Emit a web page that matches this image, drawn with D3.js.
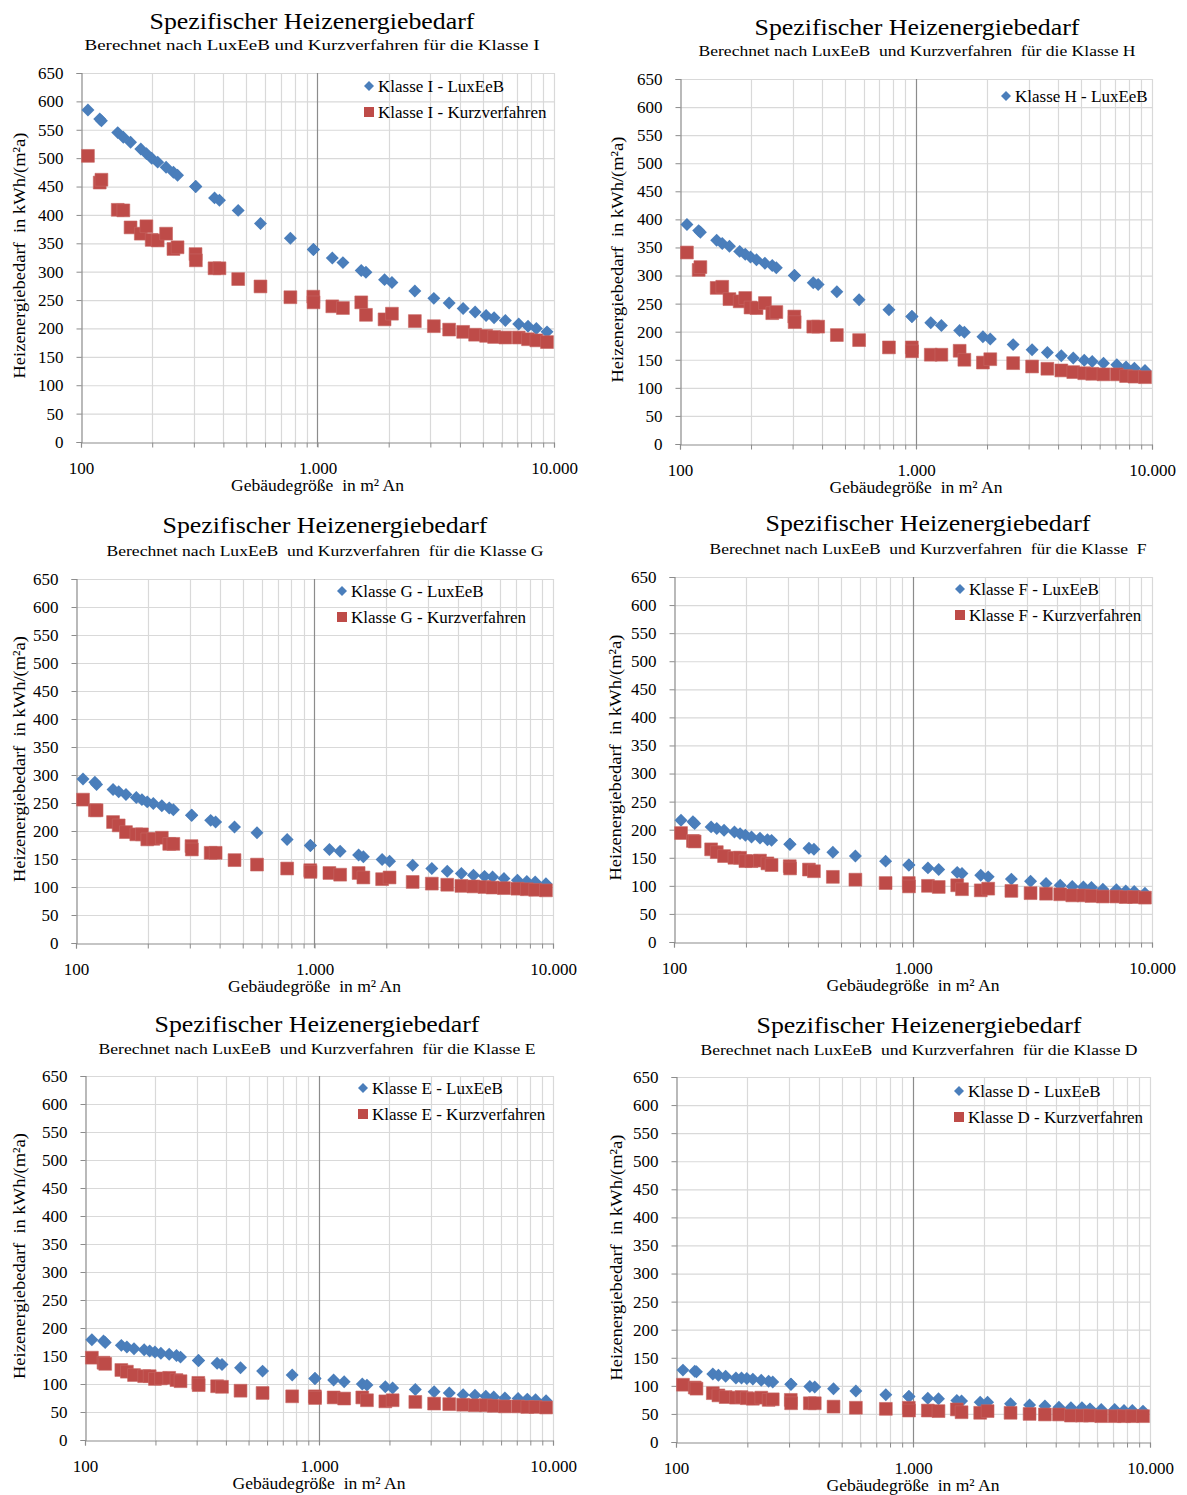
<!DOCTYPE html>
<html>
<head>
<meta charset="utf-8">
<script src="https://cdn.jsdelivr.net/npm/d3@7"></script>
<style>
  body { margin: 0; background: #fff; }
  text { font-family: "Liberation Serif", "DejaVu Serif", serif; fill: #000; }
</style>
</head>
<body>
<svg id="chart" width="1187" height="1495"></svg>
<script>
// building sizes (m² An), shared by all classes
const sizes = [107, 120, 122, 143, 151, 162, 179, 189, 199, 211, 229, 246, 256, 305, 306,
  367, 385, 462, 574, 768, 960, 962, 1155, 1281, 1531, 1603, 1921, 2064, 2580, 3104,
  3603, 4129, 4639, 5163, 5581, 6229, 7093, 7766, 8422, 9342]

const luxI = [585, 569, 566, 545, 537, 528, 516, 508, 500, 493, 484, 475, 470, 450, 450,
  430, 426, 408, 385, 359, 339, 339, 324, 316, 302, 299, 286, 281, 266, 253,
  245, 235, 229, 223, 219, 214, 208, 204, 200, 194]
const kurzI = [504, 457, 462, 409, 408, 378, 367, 380, 356, 355, 367, 340, 343, 331, 320,
  306, 306, 287, 274, 255, 256, 246, 239, 236, 246, 224, 216, 226, 213, 204,
  198, 194, 189, 187, 185, 184, 184, 181, 179, 176]

const luxH = [391, 380, 377, 363, 357, 352, 343, 338, 333, 328, 322, 318, 314, 300, 300,
  287, 284, 271, 257, 239, 227, 227, 216, 211, 202, 199, 191, 187, 177, 168,
  163, 157, 153, 149, 147, 144, 141, 137, 135, 131]
const kurzH = [341, 310, 315, 278, 280, 258, 254, 260, 243, 242, 251, 233, 235, 227, 217,
  209, 209, 194, 185, 172, 172, 165, 159, 159, 166, 150, 145, 151, 144, 138,
  134, 131, 128, 126, 125, 124, 124, 121, 120, 119]

const luxG = [293, 287, 283, 274, 270, 265, 260, 256, 252, 249, 245, 241, 238, 228, 228,
  219, 216, 207, 197, 185, 174, 174, 167, 164, 157, 154, 149, 146, 139, 133,
  128, 124, 121, 119, 118, 115, 112, 110, 109, 106]
const kurzG = [256, 237, 237, 216, 210, 198, 194, 194, 185, 186, 188, 177, 177, 173, 167,
  161, 161, 148, 140, 133, 130, 127, 125, 122, 125, 117, 114, 117, 109, 106,
  104, 102, 101, 100, 99, 98, 97, 96, 95, 94]

const luxF = [217, 214, 211, 205, 202, 199, 196, 193, 190, 187, 185, 182, 181, 174, 174,
  167, 165, 160, 153, 144, 137, 137, 132, 129, 124, 122, 119, 116, 112, 108,
  104, 101, 99, 98, 97, 94, 93, 91, 90, 87]
const kurzF = [194, 180, 179, 165, 160, 153, 150, 150, 144, 144, 145, 140, 137, 135, 131,
  129, 126, 116, 111, 105, 105, 99, 100, 98, 101, 94, 92, 95, 91, 87,
  86, 85, 83, 83, 82, 81, 81, 80, 80, 79]

const luxE = [179, 177, 174, 169, 166, 163, 161, 159, 157, 155, 153, 151, 148, 142, 142,
  137, 135, 129, 123, 116, 110, 110, 107, 104, 100, 98, 95, 93, 90, 86,
  84, 81, 80, 78, 77, 75, 74, 73, 72, 70]
const kurzE = [147, 138, 136, 125, 122, 116, 114, 114, 109, 110, 111, 107, 105, 102, 98,
  96, 95, 88, 84, 78, 78, 75, 76, 74, 76, 71, 69, 71, 68, 65,
  64, 63, 62, 62, 61, 60, 60, 59, 59, 58]

const luxD = [128, 126, 125, 121, 119, 117, 114, 114, 113, 112, 110, 108, 107, 103, 103,
  99, 98, 95, 91, 84, 81, 81, 78, 77, 74, 73, 71, 71, 68, 66,
  64, 62, 61, 61, 59, 58, 58, 56, 56, 55]
const kurzD = [102, 97, 95, 87, 83, 80, 79, 80, 78, 77, 79, 75, 76, 75, 69,
  69, 69, 63, 61, 59, 61, 56, 56, 55, 58, 53, 52, 55, 52, 50,
  49, 49, 47, 47, 47, 46, 46, 46, 46, 46]

const classes = ['I', 'H', 'G', 'F', 'E', 'D']
const subtitles = [
  'Berechnet nach LuxEeB und Kurzverfahren für die Klasse I',
  'Berechnet nach LuxEeB  und Kurzverfahren  für die Klasse H',
  'Berechnet nach LuxEeB  und Kurzverfahren  für die Klasse G',
  'Berechnet nach LuxEeB  und Kurzverfahren  für die Klasse  F',
  'Berechnet nach LuxEeB  und Kurzverfahren  für die Klasse E',
  'Berechnet nach LuxEeB  und Kurzverfahren  für die Klasse D'
]
const luxSeries = [luxI, luxH, luxG, luxF, luxE, luxD]
const kurzSeries = [kurzI, kurzH, kurzG, kurzF, kurzE, kurzD]
const showKurzLegend = [true, false, true, true, true, true]
const yTicks = d3.range(0, 651, 50)
const xTickLabels = {100: '100', 1000: '1.000', 10000: '10.000'}

// panel frames
const layout = [
  {left: 81, right: 554, top: 73, bottom: 442, tx: 312, ty: 29, sy: 50, lx: 369, ly: 86, yt: 19},
  {left: 680, right: 1152, top: 79, bottom: 444, tx: 917, ty: 35, sy: 56, lx: 1006, ly: 96, yt: 617},
  {left: 76, right: 553, top: 579, bottom: 943, tx: 325, ty: 533, sy: 556, lx: 342, ly: 591, yt: 19},
  {left: 674, right: 1152, top: 577, bottom: 942, tx: 928, ty: 531, sy: 554, lx: 960, ly: 589, yt: 615},
  {left: 85, right: 553, top: 1076, bottom: 1440, tx: 317, ty: 1032, sy: 1054, lx: 363, ly: 1088, yt: 19},
  {left: 676, right: 1150, top: 1077, bottom: 1442, tx: 919, ty: 1033, sy: 1055, lx: 959, ly: 1091, yt: 616}
]

const blue = '#4a7ebb', red = '#be4b48'
const diamond = d3.symbol(d3.symbolSquare, 84)()
const square = d3.symbol(d3.symbolSquare, 165)()

const svg = d3.select('#chart')
svg.append('rect').attr('width', 1187).attr('height', 1495).attr('fill', '#fff')

classes.forEach((k, i) => {
  const L = layout[i]
  const x = d3.scaleLog().domain([100, 10000]).range([L.left, L.right])
  const y = d3.scaleLinear().domain([0, 650]).range([L.bottom, L.top])
  const g = svg.append('g')

  // title
  g.append('text').attr('x', L.tx).attr('y', L.ty).attr('text-anchor', 'middle')
    .attr('font-size', 24).attr('textLength', 325).attr('lengthAdjust', 'spacingAndGlyphs')
    .text('Spezifischer Heizenergiebedarf')
  g.append('text').attr('x', L.tx).attr('y', L.sy).attr('text-anchor', 'middle')
    .attr('font-size', 15.5).attr('textLength', i == 0 ? 455 : 437).attr('lengthAdjust', 'spacingAndGlyphs')
    .style('white-space', 'pre')
    .text(subtitles[i])

  // grid
  const xt = x.ticks()
  g.append('g').selectAll('line').data(yTicks.slice(1)).join('line')
    .attr('x1', L.left).attr('x2', L.right)
    .attr('y1', d => y(d) + .5).attr('y2', d => y(d) + .5)
    .attr('stroke', '#d9d9d9').attr('stroke-width', 1.2)
  g.append('g').selectAll('line').data(xt.filter(d => d != 100 && d != 1000)).join('line')
    .attr('x1', d => Math.round(x(d)) + .5).attr('x2', d => Math.round(x(d)) + .5)
    .attr('y1', L.top).attr('y2', L.bottom)
    .attr('stroke', '#d9d9d9').attr('stroke-width', 1.2)
  g.append('line')
    .attr('x1', Math.round(x(1000)) + .5).attr('x2', Math.round(x(1000)) + .5)
    .attr('y1', L.top).attr('y2', L.bottom + 5)
    .attr('stroke', '#8c8c8c').attr('stroke-width', 1.2)

  // axes
  const ya = g.append('g').attr('transform', `translate(${L.left + .5},0)`)
    .call(d3.axisLeft(y).tickValues(yTicks).tickSize(5).tickPadding(13).tickFormat(d3.format('d')))
  const xa = g.append('g').attr('transform', `translate(0,${L.bottom + .5})`)
    .call(d3.axisBottom(x).tickValues(xt).tickSize(5).tickPadding(14)
      .tickFormat(d => xTickLabels[d] || ''))
  ;[ya, xa].forEach(a => {
    a.select('.domain').attr('stroke', '#8c8c8c').attr('stroke-width', 1.2)
    a.selectAll('.tick line').attr('stroke', '#8c8c8c')
    a.selectAll('text').attr('font-size', 17).attr('font-family', '"Liberation Serif", serif').attr('fill', '#000')
  })

  // axis titles
  g.append('text').attr('x', x(1000)).attr('y', L.bottom + 49).attr('text-anchor', 'middle')
    .attr('font-size', 17).attr('textLength', 173).attr('lengthAdjust', 'spacingAndGlyphs')
    .style('white-space', 'pre').text('Gebäudegröße  in m² An')
  g.append('text')
    .attr('transform', `translate(${L.yt + 6},${(L.top + L.bottom) / 2 - 2}) rotate(-90)`)
    .attr('text-anchor', 'middle').attr('font-size', 17)
    .attr('textLength', 246).attr('lengthAdjust', 'spacingAndGlyphs')
    .style('white-space', 'pre')
    .text('Heizenergiebedarf  in kWh/(m²a)')

  // points
  const lux = sizes.map((s, j) => [s, luxSeries[i][j]])
  const kurz = sizes.map((s, j) => [s, kurzSeries[i][j]])
  g.append('g').selectAll('path').data(lux).join('path')
    .attr('d', diamond).attr('fill', blue)
    .attr('transform', d => `translate(${x(d[0])},${y(d[1])}) rotate(45)`)
  g.append('g').selectAll('path').data(kurz).join('path')
    .attr('d', square).attr('fill', red).attr('stroke', '#c86663').attr('stroke-width', .6)
    .attr('transform', d => `translate(${x(d[0])},${y(d[1])})`)

  // legend
  const lg = g.append('g').attr('transform', `translate(${L.lx},${L.ly})`)
  lg.append('path').attr('d', d3.symbol(d3.symbolSquare, 50)()).attr('fill', blue)
    .attr('transform', 'rotate(45)')
  lg.append('text').attr('x', 9).attr('y', 5.5).attr('font-size', 17).style('white-space', 'pre')
    .text(`Klasse ${k} - LuxEeB`)
  if (showKurzLegend[i]) {
    lg.append('rect').attr('x', -5).attr('y', 21).attr('width', 10).attr('height', 10).attr('fill', red)
    lg.append('text').attr('x', 9).attr('y', 32).attr('font-size', 17).style('white-space', 'pre')
      .text(`Klasse ${k} - Kurzverfahren`)
  }
})
</script>
</body>
</html>
